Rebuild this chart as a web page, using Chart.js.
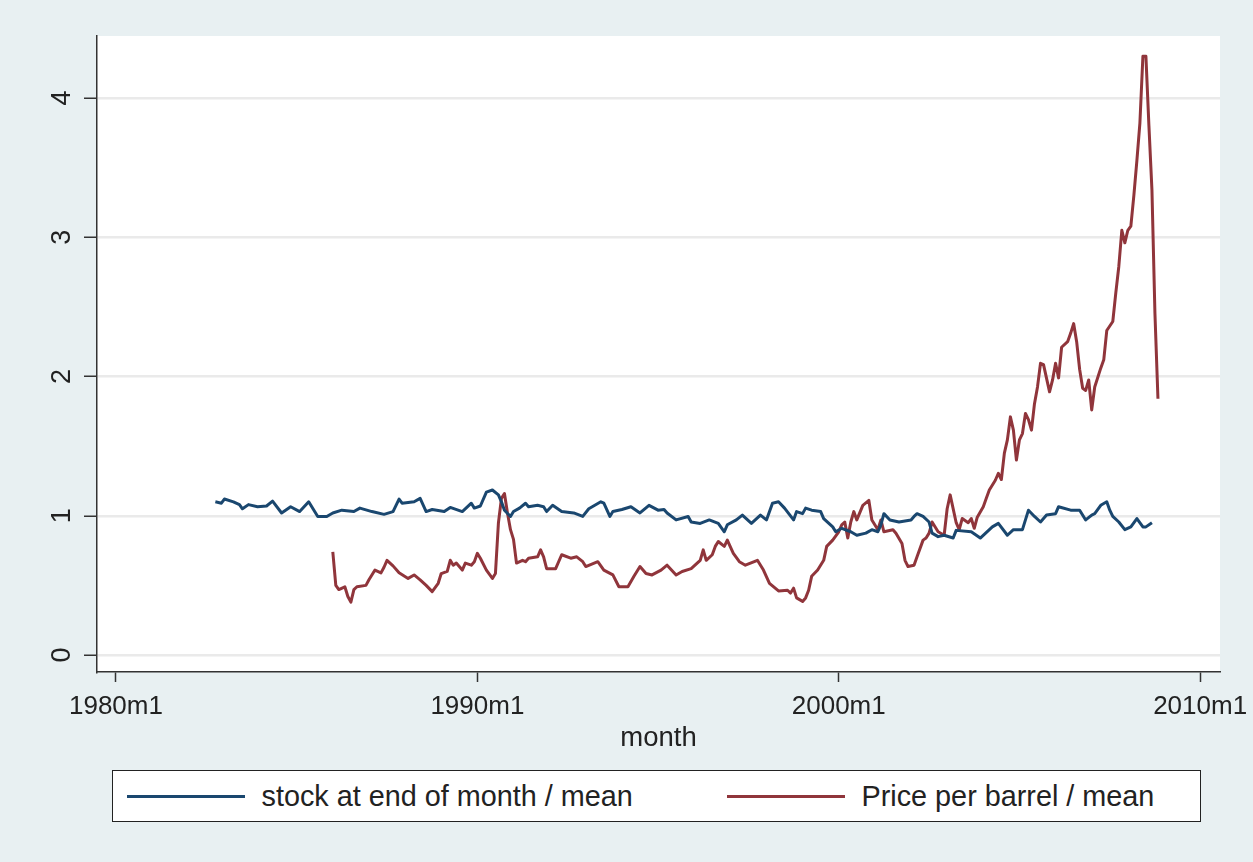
<!DOCTYPE html>
<html>
<head>
<meta charset="utf-8">
<script src="https://cdn.jsdelivr.net/npm/chart.js@4.4.0/dist/chart.umd.min.js"></script>
<style>
  body { margin: 0; background: #e8f0f2; width: 1253px; height: 862px; overflow: hidden; position: relative; font-family: 'Liberation Sans', Arial, sans-serif; }
  #chart { position: absolute; left: 0; top: 0; }
  #legend { position: absolute; left: 112px; top: 770px; width: 1087px; height: 50px; background: #fff; border: 1.5px solid #222; }
  .item { position: absolute; top: 0; height: 50px; display: flex; align-items: center; font-size: 28.8px; color: #222; white-space: nowrap; }
  .swatch { display: inline-block; width: 118px; height: 3px; margin-right: 17px; }
</style>
</head>
<body>
<canvas id="chart" width="1253" height="862"></canvas>
<div id="legend"></div>
<script>
// months are counted from 1980m1 (0 = 1980m1)
const stockMonths = [33, 35, 36, 39, 41, 42, 44, 47, 50, 52, 55, 58, 61, 64, 67, 70, 72, 75, 79, 81, 85, 89, 92, 94, 95, 99,
  101, 103, 105, 109, 111, 115, 118, 119, 121, 123, 125, 127, 128, 129, 131, 132, 134, 136, 137, 140, 142, 143, 145, 148,
  152, 155, 157, 161, 162, 164, 165, 168, 171, 174, 177, 180, 182, 183, 186, 190, 191, 194, 197, 200, 202, 203, 206, 208,
  211, 214, 216, 218, 220, 222, 225, 226, 228, 229, 231, 234, 235, 238, 239, 241, 244, 246, 249, 251, 253, 254, 255, 257,
  260, 264, 265, 266, 268, 270, 271, 273, 275, 278, 279, 284, 287, 291, 293, 296, 298, 301, 303, 305, 307, 309, 312, 313,
  317, 320, 322, 324, 325, 327, 329, 330, 331, 333, 335, 337, 339, 341, 342, 344];
const stockValues = [1.10, 1.09, 1.12, 1.10, 1.08, 1.05, 1.08, 1.065, 1.07, 1.105, 1.02, 1.065, 1.03, 1.10, 0.995, 0.995, 1.02, 1.04, 1.03, 1.055, 1.03, 1.01, 1.03, 1.12, 1.09, 1.10,
  1.125, 1.03, 1.045, 1.03, 1.06, 1.03, 1.09, 1.055, 1.07, 1.17, 1.185, 1.15, 1.10, 1.04, 0.995, 1.03, 1.055, 1.09, 1.065, 1.075, 1.065, 1.03, 1.075, 1.03,
  1.02, 0.995, 1.05, 1.10, 1.09, 0.995, 1.03, 1.045, 1.065, 1.02, 1.075, 1.04, 1.045, 1.02, 0.97, 0.995, 0.955, 0.945, 0.97, 0.945, 0.885, 0.935, 0.97, 1.005,
  0.945, 1.005, 0.97, 1.09, 1.10, 1.055, 0.97, 1.03, 1.015, 1.055, 1.04, 1.03, 0.98, 0.92, 0.885, 0.91, 0.885, 0.86, 0.875, 0.90, 0.885, 0.935, 1.015, 0.97,
  0.955, 0.97, 0.995, 1.015, 0.995, 0.955, 0.875, 0.85, 0.86, 0.84, 0.895, 0.885, 0.84, 0.92, 0.945, 0.86, 0.90, 0.90, 1.04, 0.995, 0.955, 1.005, 1.015, 1.065,
  1.04, 1.04, 0.97, 1.005, 1.015, 1.075, 1.10, 1.04, 0.995, 0.955, 0.90, 0.92, 0.98, 0.92, 0.92, 0.95];

const priceMonths = [72, 73, 74, 76, 77, 78, 79, 80, 83, 84, 86, 88, 89, 90, 92, 94, 97, 99, 101, 103, 105, 107, 108, 110,
  111, 112, 113, 115, 116, 118, 119, 120, 121, 123, 125, 126, 127, 128, 129, 130, 131, 132, 133, 135, 136, 137, 140, 141,
  142, 143, 146, 148, 151, 153, 155, 156, 160, 162, 165, 167, 170, 172, 174, 176, 178, 181, 183, 186, 188, 191, 194, 195,
  196, 198, 199, 200, 202, 203, 205, 207, 209, 213, 215, 217, 220, 223, 224, 225, 226, 228, 229, 230, 231, 233, 235, 236,
  238, 240, 241, 242, 243, 244, 245, 246, 248, 250, 251, 253, 254, 255, 258, 259, 261, 262, 263, 265, 266, 268, 269, 270,
  271, 273, 275, 276, 277, 279, 280, 281, 283, 284, 285, 286, 288, 289, 290, 292, 293, 294, 295, 296, 297, 298, 299, 300,
  301, 302, 303, 304, 305, 306, 307, 308, 310, 311, 312, 313, 314, 316, 317, 318, 319, 320, 321, 322, 323, 324, 325, 327,
  328, 329, 331, 332, 333, 334, 335, 336, 337, 338, 339, 340, 341, 342, 343, 344, 345, 346];
const priceValues = [0.74, 0.50, 0.47, 0.49, 0.42, 0.38, 0.47, 0.49, 0.50, 0.54, 0.61, 0.59, 0.63, 0.68, 0.64, 0.59, 0.55, 0.575, 0.54, 0.50, 0.455, 0.515, 0.585, 0.60,
  0.68, 0.645, 0.66, 0.61, 0.66, 0.645, 0.67, 0.73, 0.695, 0.61, 0.55, 0.585, 0.95, 1.125, 1.16, 1.02, 0.90, 0.83, 0.66, 0.68, 0.67, 0.695, 0.705, 0.755,
  0.705, 0.62, 0.62, 0.72, 0.695, 0.705, 0.67, 0.635, 0.67, 0.61, 0.575, 0.49, 0.49, 0.565, 0.635, 0.585, 0.575, 0.61, 0.645, 0.575, 0.60, 0.62, 0.68, 0.755,
  0.68, 0.72, 0.78, 0.815, 0.78, 0.825, 0.73, 0.67, 0.645, 0.68, 0.61, 0.515, 0.46, 0.465, 0.445, 0.48, 0.41, 0.385, 0.41, 0.465, 0.565, 0.61, 0.68, 0.78,
  0.825, 0.885, 0.935, 0.955, 0.84, 0.955, 1.03, 0.97, 1.075, 1.11, 0.97, 0.90, 0.97, 0.885, 0.90, 0.875, 0.80, 0.68, 0.635, 0.645, 0.705, 0.825, 0.84, 0.875,
  0.955, 0.885, 0.86, 1.05, 1.15, 0.95, 0.90, 0.98, 0.95, 0.98, 0.91, 0.99, 1.065, 1.125, 1.185, 1.255, 1.305, 1.26, 1.45, 1.545, 1.71, 1.615, 1.40, 1.545,
  1.59, 1.735, 1.69, 1.615, 1.805, 1.925, 2.095, 2.085, 1.89, 1.975, 2.095, 1.99, 2.21, 2.25, 2.31, 2.38, 2.25, 2.05, 1.915, 1.90, 1.975, 1.76, 1.925, 2.06,
  2.12, 2.33, 2.395, 2.60, 2.79, 3.05, 2.96, 3.05, 3.08, 3.30, 3.55, 3.82, 4.30, 4.30, 3.80, 3.34, 2.45, 1.84];

const xTicks = [0, 120, 240, 360];
const xTickLabels = ['1980m1', '1990m1', '2000m1', '2010m1'];
const yTicks = [0, 1, 2, 3, 4];

const stockColor = '#1a476f';
const priceColor = '#90353b';

function toPoints(months, values) {
  return months.map((m, i) => ({ x: m, y: values[i] }));
}

// white plot region behind the lines
const plotBackground = {
  id: 'plotBackground',
  beforeDraw(chart) {
    const { ctx, chartArea } = chart;
    ctx.save();
    ctx.fillStyle = '#ffffff';
    ctx.fillRect(chartArea.left, chartArea.top, chartArea.right - chartArea.left, chartArea.bottom - chartArea.top);
    ctx.restore();
  }
};

Chart.defaults.font.family = "'Liberation Sans', Arial, sans-serif";
Chart.defaults.font.size = 27;
Chart.defaults.color = '#222';

const chart = new Chart(document.getElementById('chart'), {
  type: 'line',
  data: {
    datasets: [
      { label: 'stock at end of month / mean', data: toPoints(stockMonths, stockValues), borderColor: stockColor, borderWidth: 3, pointRadius: 0, tension: 0, borderJoinStyle: 'round' },
      { label: 'Price per barrel / mean', data: toPoints(priceMonths, priceValues), borderColor: priceColor, borderWidth: 3, pointRadius: 0, tension: 0, borderJoinStyle: 'round' }
    ]
  },
  options: {
    responsive: false,
    devicePixelRatio: 1,
    animation: false,
    layout: { padding: { left: 0, right: 33, top: 36, bottom: 107 } },
    plugins: { legend: { display: false }, tooltip: { enabled: false } },
    scales: {
      x: {
        type: 'linear',
        min: -6.3,
        max: 366.6,
        afterBuildTicks: s => { s.ticks = xTicks.map(v => ({ value: v })); },
        // keep the plot full width; the last label may hang into the margin
        afterFit: s => { s.height = 83; s.paddingLeft = 0; s.paddingRight = 0; },
        ticks: { callback: v => xTickLabels[xTicks.indexOf(v)], padding: 9, maxRotation: 0, font: { size: 26 } },
        grid: { drawOnChartArea: false, drawTicks: true, tickLength: 10, tickColor: '#333', tickWidth: 1.5 },
        border: { color: '#333', width: 1.5 },
        title: { display: true, text: 'month', padding: 0, font: { size: 27.5 } }
      },
      y: {
        min: -0.122,
        max: 4.445,
        afterBuildTicks: s => { s.ticks = yTicks.map(v => ({ value: v })); },
        afterFit: s => { s.width = 97; },
        ticks: { minRotation: 90, maxRotation: 90, crossAlign: 'center', padding: 14 },
        grid: { color: '#eaeaea', lineWidth: 2.5, tickLength: 13, tickColor: '#333', tickWidth: 1.5 },
        border: { color: '#333', width: 1.5 }
      }
    }
  },
  plugins: [plotBackground]
});

// legend box, laid out as in the picture
const legend = document.getElementById('legend');
const legendLeft = [13.5, 613.5];
chart.data.datasets.forEach((ds, i) => {
  const item = document.createElement('div');
  item.className = 'item';
  item.style.left = legendLeft[i] + 'px';
  item.innerHTML = `<span class="swatch" style="background:${ds.borderColor}"></span><span>${ds.label}</span>`;
  legend.appendChild(item);
});
</script>
</body>
</html>
